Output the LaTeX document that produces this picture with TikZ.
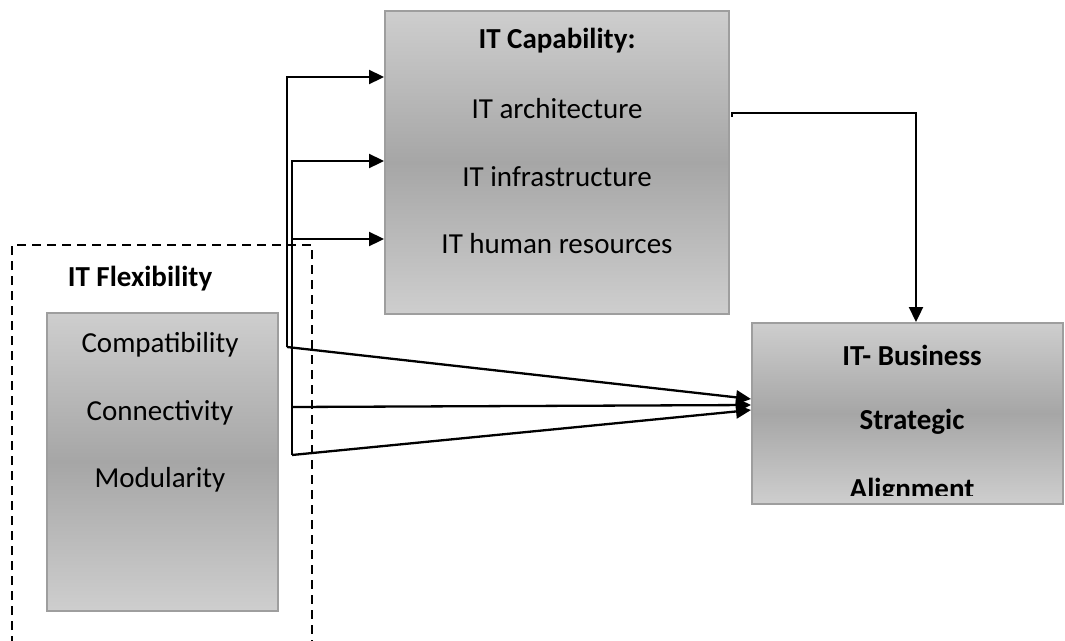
\documentclass[tikz,border=0pt]{standalone}
\usepackage{fontspec}
\setmainfont{Carlito}
\usetikzlibrary{arrows.meta}
\definecolor{gtop}{RGB}{206,206,206}
\definecolor{gmid}{RGB}{166,166,166}
\definecolor{boxedge}{RGB}{158,158,158}
\begin{document}
\begin{tikzpicture}[x=1pt,y=-1pt,
  gbox/.style={draw=boxedge, line width=1.5pt, top color=gtop, bottom color=gtop,
    middle color=gmid, inner sep=0pt, anchor=north west},
  lbl/.style={font=\fontsize{29}{34}\selectfont, inner sep=0pt},
  blbl/.style={font=\fontsize{29}{34}\selectfont\bfseries, inner sep=0pt},
  frame/.style={draw, line width=1.5pt, dash pattern=on 9pt off 6pt},
  link/.style={line width=2.3pt, -{Triangle[length=15pt,width=14pt]}}]
\useasboundingbox (0,0) rectangle (1065,640);
\clip (0,0) rectangle (1065,640);

% IT capability block
\node[gbox, minimum width=344pt, minimum height=303pt] (cap) at (384,10) {};
\node[blbl] (capT) at (557,41) {IT Capability:};
\node[lbl] (capA) at (557,109) {IT architecture};
\node[lbl] (capB) at (557,177) {IT infrastructure};
\node[lbl] (capC) at (557,244) {IT human resources};

% IT flexibility frame and block
\draw[frame] (12,660) -- (12,245) -- (312,245) -- (312,660);
\node[blbl] (flexT) at (140,279) {IT Flexibility};
\node[gbox, minimum width=231pt, minimum height=298pt] (flex) at (46,312) {};
\node[lbl] (flexA) at (160,345) {Compatibility};
\node[lbl] (flexB) at (160,413) {Connectivity};
\node[lbl] (flexC) at (160,480) {Modularity};

% strategic alignment block, its last line cut off near the box edge
\node[gbox, minimum width=311pt, minimum height=181pt] (al) at (751,322) {};
\begin{scope}
  \clip ([yshift=9pt]al.south west) rectangle (al.north east);
  \node[blbl] (alA) at (912,355) {IT- Business};
  \node[blbl] (alB) at (912,422) {Strategic};
  \node[blbl] (alC) at (912,491) {Alignment};
\end{scope}

% connector end points
\coordinate (k1) at (287,347);
\coordinate (k2) at (292,407);
\coordinate (k3) at (292,455);
\coordinate (ci1) at (384,77);
\coordinate (ci2) at (384,161);
\coordinate (ci3) at (384,239);
\coordinate (ai1) at (751,399);
\coordinate (ai2) at (751,405);
\coordinate (ai3) at (751,410);
\coordinate (co) at (732,117);
\coordinate (cot) at (732,113);
\coordinate (ai0) at (916,322);

% connectors
\draw[link] (k1) |- (ci1);
\draw[link] (k3) |- (ci2);
\draw[link] (k3 |- ci3) -- (ci3);
\draw[link] (k1) -- (ai1);
\draw[link] (k2) -- (ai2);
\draw[link] (k3) -- (ai3);
\draw[link] (co) -- (cot) -| (ai0);
\end{tikzpicture}
\end{document}
